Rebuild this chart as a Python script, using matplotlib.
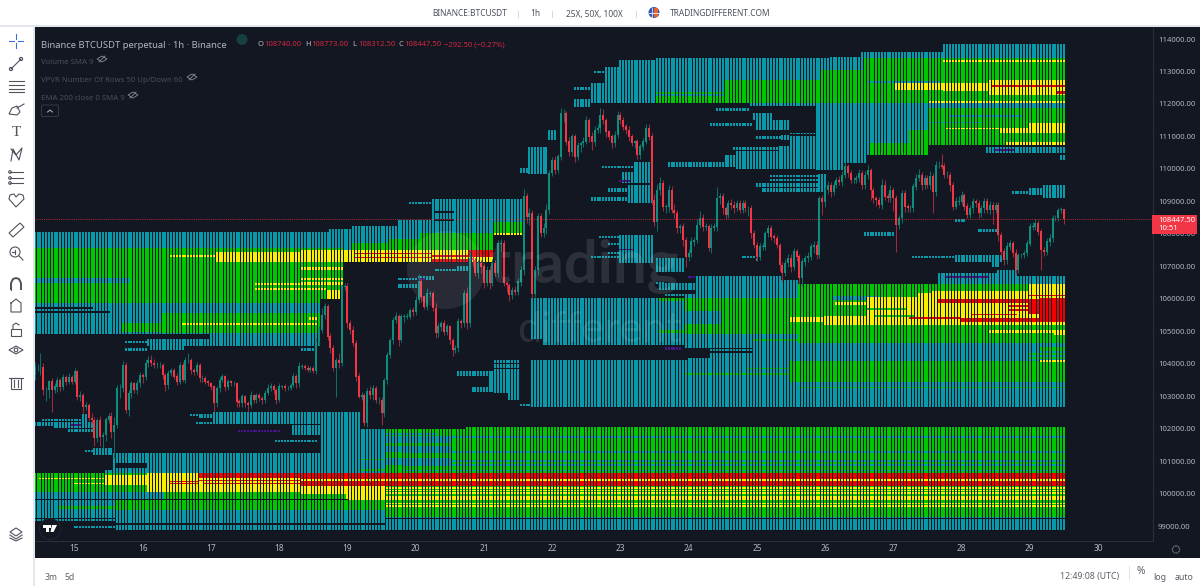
import numpy as np
import matplotlib
matplotlib.use("Agg")
import matplotlib.pyplot as plt
from matplotlib.patches import Rectangle, Circle, Polygon, FancyBboxPatch

plt.rcParams["font.family"] = ["Noto Sans", "DejaVu Sans"]

BG = "#131722"
TEAL = "#089aaa"
GREEN = "#00c800"
YELLOW = "#f8f000"
RED = "#f00000"
PURPLE = "#47148c"
UP = "#0e8f7e"
DOWN = "#f23645"
AXIS_TEXT = "#b2b5be"

# Hourly candles, the last one printing at 12:00 on the 29th
first_open = 103650
closes = [
    103890,103890,103890,103190,103190,103440,103190,103290,103500,
    103270,103580,103440,103580,103440,103750,102960,103030,102670,102730,
    102320,102260,101700,102260,101750,101800,102280,102370,101900,102110,
    103240,103240,103960,102570,103090,103390,103190,103390,103650,103600,
    104010,104110,104010,103960,103960,103960,103650,103340,103700,103800,
    103600,103440,103960,103500,104110,104110,103800,103750,103960,103550,
    103550,103440,103390,103290,102780,103240,103500,103600,103290,103440,
    103390,103390,102830,102780,102980,102780,102730,103030,102880,103030,
    102930,102880,103090,103240,103290,103190,102880,103290,103290,103240,
    103240,103340,103600,103390,103910,103910,103860,103800,103860,103780,
    104680,105040,105500,105780,104830,104470,103860,104110,104010,106370,
    106370,105240,105040,104630,103600,102980,103030,102160,103140,103030,
    103240,102880,102880,102470,103490,104270,104730,105340,105450,104730,
    105450,105450,105450,105650,105600,105960,106520,106060,105750,106160,
    106160,105700,104930,105140,105240,104980,105140,104730,104420,104470,
    105290,105240,106160,105240,107240,107190,106780,107090,106990,106470,
    106880,106470,107090,106780,107700,107700,106470,106420,106110,106270,
    106210,106520,106880,109140,108530,108630,106160,106880,108530,108010,
    108170,108730,109860,110270,109960,110370,111710,111710,110840,110530,
    110990,110370,110730,110790,110840,111500,110990,110840,111200,111250,
    111660,111500,111140,110990,110790,111040,111660,111500,111300,111200,
    110990,110790,110840,110430,110680,110840,111250,110990,109040,108370,
    109350,109550,108830,108830,109350,108730,108630,108170,108220,107810,
    107290,107400,107760,107810,108270,108480,108220,108220,107550,108170,
    108220,109090,109140,108780,108580,108940,108890,108780,108940,108730,
    108940,108780,108780,108010,107650,107290,107600,107600,108010,108170,
    107910,107860,107650,107040,106780,107090,107240,106990,107450,107290,
    106630,107140,107240,107290,107600,107650,107340,109090,108990,109350,
    109500,109300,109500,109660,109600,109810,110070,109860,109660,109660,
    109710,109860,109500,109810,109960,109350,109090,109040,108890,109500,
    109140,109090,109350,109090,108270,108480,109250,108840,108780,108780,
    109450,109710,109810,109500,109710,109500,109760,109300,110120,110120,
    110070,109810,109810,109500,108840,108990,108990,109190,108840,108580,
    108780,108990,108940,108630,108780,108990,108730,108890,108730,108890,
    107960,107450,107190,107600,107700,107400,106880,107340,107340,107400,
    107700,108220,108220,108320,108060,107500,107450,107760,107860,108480,
    108480,108730,108740,108447.5,
]
wick_up = [
    150,100,430,120,100,60,130,120,100,
    60,100,80,120,60,120,50,120,60,100,
    60,150,100,80,120,100,80,100,150,250,
    100,120,120,80,100,80,60,100,100,60,
    120,130,170,120,100,80,60,60,100,80,
    80,120,100,100,90,220,60,80,100,60,
    100,60,60,60,50,80,80,80,60,100,
    60,80,50,70,100,70,60,120,50,80,
    60,80,100,120,100,80,70,100,60,80,
    60,80,100,70,130,80,90,100,60,80,
    100,120,220,100,70,100,100,80,220,90,
    120,130,100,130,100,120,100,80,120,160,
    100,70,100,90,80,100,60,100,130,80,
    90,70,120,50,100,140,250,100,70,170,
    80,90,170,100,90,110,70,60,70,100,
    120,100,120,200,190,120,50,110,100,100,
    140,140,120,100,120,130,100,70,80,100,
    130,120,130,230,120,160,90,130,120,110,
    150,200,120,100,120,100,180,120,70,150,
    70,90,110,50,130,130,70,160,130,120,
    200,180,70,60,90,130,120,90,100,70,
    110,90,60,80,80,100,120,120,100,180,
    180,190,110,90,150,120,200,100,90,100,
    100,120,130,100,180,220,130,100,90,120,
    100,340,120,110,80,100,120,110,100,90,
    90,100,70,100,120,100,110,130,90,100,
    100,70,90,60,100,120,130,150,120,80,
    100,110,120,150,130,120,120,80,120,100,
    120,90,120,100,110,120,130,70,100,90,
    100,130,100,110,150,70,100,90,100,190,
    160,110,150,100,110,90,110,100,90,120,
    100,130,180,90,100,110,160,100,110,130,
    340,100,120,100,90,130,170,130,80,100,
    120,110,90,90,100,100,110,120,90,100,
    80,100,100,150,120,70,140,70,80,100,
    100,120,140,130,100,100,90,110,130,90,
    90,70,100,33,
]
wick_dn = [
    150,100,230,150,350,250,670,100,150,
    120,80,100,60,70,80,80,100,200,100,
    100,90,250,120,300,350,180,100,200,820,
    80,300,120,90,170,150,80,120,100,180,
    100,120,80,100,100,90,120,170,120,90,
    80,90,80,60,100,80,120,100,90,100,
    100,60,70,100,250,100,100,70,120,110,
    80,70,150,110,100,120,180,90,90,100,
    80,120,80,60,90,110,110,70,60,70,
    60,60,70,150,120,70,50,70,70,60,
    100,90,100,120,90,130,70,900,150,90,
    110,150,120,90,120,50,100,90,100,130,
    160,100,110,360,100,130,100,120,90,180,
    60,180,80,70,130,110,100,150,80,100,
    100,90,150,110,120,90,100,120,170,100,
    120,130,100,160,100,180,90,150,200,130,
    80,160,80,90,110,230,90,210,190,110,
    100,80,120,150,190,270,130,120,160,110,
    100,170,130,90,130,100,110,260,100,120,
    120,160,90,220,110,80,150,250,120,110,
    130,120,150,110,140,120,100,120,100,130,
    130,100,160,120,130,110,60,90,110,120,
    280,140,120,200,150,100,130,130,130,200,
    300,130,100,140,100,90,130,100,90,130,
    90,120,170,160,110,80,130,130,90,80,
    100,110,240,130,100,120,110,90,100,100,
    110,150,100,200,230,90,120,170,100,130,
    180,250,120,100,100,180,130,100,400,170,
    120,180,90,100,100,130,90,100,80,100,
    90,100,120,130,120,300,130,180,110,120,
    100,100,100,400,820,130,150,160,100,110,
    100,100,90,140,110,90,110,670,130,100,
    80,100,90,170,110,70,100,90,100,100,
    100,130,110,140,120,140,100,120,430,100,
    170,120,150,130,100,120,120,100,90,100,
    70,90,100,100,100,620,130,100,120,110,
    80,90,100,135,
]

# Order-book depth zones: (first day, last day, low price, high price)
teal_zones = [
    # upper-left shelf
    (14.40,16.99,104914,108055),(16.99,18.60,104544,108055),(18.60,18.72,105992,108055),
    (18.72,18.94,105992,108148),(18.94,19.08,107131,108148),(19.08,19.74,107131,108240),
    (19.74,20.25,107131,108425),(20.25,20.94,107131,109072),(20.94,21.16,107347,109072),
    (21.16,21.57,107963,109072),(19.90,20.25,108918,108979),
    # pockets around the 22nd and 23rd
    (21.63,21.94,109842,110673),(21.53,21.63,109873,110027),(21.94,22.07,110889,111197),
    (23.19,23.46,109903,110211),(22.73,23.19,110027,110088),(23.04,23.46,109565,109903),
    (22.82,23.46,109287,109411),(23.11,23.46,108949,109503),(22.58,23.29,109010,109134),
    (23.70,24.53,110057,110211),(24.53,24.68,110057,110427),(24.68,25.31,109996,110550),
    (25.31,25.59,109996,110704),(25.48,25.85,109996,111012),(25.85,26.29,109965,112029),
    (26.29,26.61,110181,112029),(26.61,27.54,110427,112029),(27.54,29.52,110735,112029),
    # upper-right shelf
    (22.78,22.99,112029,113137),(22.99,23.52,112029,113353),(23.52,26.06,112029,113415),
    (26.06,26.51,112029,113445),(26.51,27.73,112029,113600),(27.73,29.52,112029,113846),
    (22.33,22.55,112429,112521),(22.33,22.55,111900,112150),(22.57,22.78,112029,112645),
    (22.62,22.78,112950,113010),(24.39,24.91,111782,111875),(24.94,25.22,111505,111721),
    (24.99,25.48,111197,111505),(24.30,24.94,111320,111413),(24.99,25.34,110920,111012),
    (25.34,25.48,110889,111043),(25.48,25.93,111074,111105),(24.65,25.34,110581,110673),
    (24.91,25.93,111950,112029),
    # isolated ladders near the current price
    (29.19,29.52,109103,109503),(28.96,29.19,109195,109411),(28.71,28.96,109226,109318),
    (28.35,29.52,110489,110673),(29.44,29.52,110273,110427),(25.19,25.90,109749,109811),
    (25.19,25.90,109626,109688),(24.97,25.90,109441,109565),(25.08,25.90,109287,109411),
    (25.90,26.03,109287,109842),(27.91,28.08,108363,108456),(28.25,28.52,108055,108148),
    (26.58,27.02,107932,108055),(27.29,27.91,107255,107316),(27.91,28.61,107131,107347),
    (28.42,28.57,106977,107162),(24.78,24.97,107255,107316),(24.97,25.02,107162,107255),
    (23.51,23.92,106823,107255),(22.99,23.46,107100,107963),(22.70,22.99,107871,107932),
    (22.80,23.14,107655,107717),(22.80,23.14,107380,107440),(22.58,23.14,107255,107316),
    (23.51,23.65,106454,106515),(23.58,24.17,106269,106485),(23.63,23.92,106084,106146),
    # middle and lower-right shelf
    (21.68,21.87,104760,106023),(21.87,23.92,104575,106023),(23.92,24.09,104483,106146),
    (24.09,24.94,104483,106700),(24.94,25.35,102665,106700),(25.35,25.62,102665,106577),
    (25.62,27.64,102665,106454),(27.64,28.52,102665,106793),(28.52,28.83,102665,106885),
    (28.83,29.52,102665,106700),(21.13,21.34,103098,104113),(21.34,21.53,102881,104113),
    (21.53,21.70,102696,102758),(21.70,23.99,102665,104113),(23.99,24.33,102665,104175),
    (24.33,24.94,102665,104329),(24.33,24.94,104400,104440),(20.61,21.05,103620,103774),
    (20.83,21.05,103129,103281),(21.05,21.13,103129,103774),(20.02,20.28,106580,106700),
    (19.74,20.02,106330,106450),(19.74,20.02,106580,106640),(20.28,20.77,106850,106920),
    (20.62,20.77,106840,107000),
    # left-hand ladders
    (14.52,15.11,102234,102296),(14.40,14.68,102080,102204),(14.68,15.26,102019,102204),
    (15.11,15.18,102019,102450),(14.89,15.26,101895,101988),(15.15,15.26,101280,101341),
    (15.26,15.56,101187,101403),(16.69,17.02,102388,102450),(16.81,17.35,102327,102450),
    (17.02,18.60,102142,102505),(16.77,17.50,102142,102204),(18.19,18.60,101803,102111),
    (18.60,19.18,101249,102505),(17.94,18.57,101587,101649),(15.74,16.06,104637,104698),
    (16.06,16.99,104544,104760),(16.11,16.62,104421,104544),(15.74,16.06,104390,104483),
    (18.32,18.52,104400,104470),
    # bottom shelf
    (15.56,19.18,100633,101249),(15.45,15.56,100633,100725),(19.18,20.72,100633,101988),
    (20.72,29.52,100633,102050),(14.40,15.59,99123,100633),(15.59,29.52,98877,100633),
    (15.00,15.59,98950,99000),
]
green_zones = [
    (14.40,18.60,105869,107563),(18.60,18.94,105992,107563),(16.28,18.60,104945,105561),
    (15.70,16.28,104990,105250),(19.08,19.59,107501,107717),(19.59,20.06,107501,107840),
    (20.06,21.16,107501,108025),(21.16,21.57,108025,108363),
    (23.52,24.53,112029,112368),(24.53,25.93,112029,112737),(25.93,26.57,112029,113047),
    (26.57,29.52,112029,113415),(27.54,29.52,110735,111875),(27.23,27.54,110427,111197),
    (26.66,27.23,110427,110800),
    (23.92,24.94,104914,106023),(23.58,23.92,105930,106023),(23.58,23.92,104930,105030),
    (24.94,25.62,104914,106023),(25.62,29.52,104637,106454),(24.94,25.62,104700,104760),
    (25.48,29.52,103435,104082),(23.92,25.48,103651,103713),(24.85,25.48,103836,103866),
    (25.62,29.52,103251,103281),(29.13,29.52,104400,104500),(28.96,29.52,104280,104340),
    (28.96,29.52,104150,104200),
    (19.58,20.72,100633,101988),(20.72,29.52,100633,102050),(19.18,19.58,101030,101060),
    (19.18,19.58,100700,100760),(14.40,15.59,100047,100633),(15.59,29.52,99277,100633),
    (14.78,15.59,99530,99610),
]
teal_over_green = [
    (14.40,15.81,106485,106639),(23.92,24.49,105210,105610),(15.59,16.30,99800,100047),
    (15.59,19.58,99277,99493),(19.80,29.52,101700,101760),(19.80,29.52,101250,101310),
    (19.80,29.52,100980,101020),(19.80,29.52,100860,100910),(19.80,29.52,100700,100730),
    (19.58,20.50,101560,101760),(19.58,20.50,101280,101450),(19.58,20.50,100880,101100),
    (19.58,20.30,101800,101880),(23.52,24.53,112250,112300),(26.60,27.70,112645,112700),
    (27.80,28.90,111600,111650),(27.54,28.30,111400,111450),(26.10,26.80,105950,106100),
    (26.66,27.10,110900,111000),
]
yellow_zones = [
    (18.45,18.57,105340,105440),(16.57,18.57,105190,105250),(17.06,18.31,107131,107440),
    (16.40,17.06,107285,107347),(18.31,21.16,107131,107501),(18.31,18.94,106885,106980),
    (18.31,18.94,106577,106639),(18.31,18.94,106423,106515),(18.70,18.94,105992,106269),
    (17.65,18.70,106423,106485),(17.65,18.70,106269,106331),(21.16,21.57,107960,108025),
    (27.04,27.73,112429,112645),(27.73,28.38,112400,112660),(28.38,29.52,112275,112737),
    (27.73,29.52,113291,113353),(27.54,29.52,112029,112090),(27.79,28.57,111228,111259),
    (28.57,28.96,111105,111259),(28.96,29.52,111105,111413),(28.64,29.52,110735,110827),
    (25.48,26.00,105283,105437),(26.00,26.60,105191,105470),(26.16,26.60,105800,105900),
    (26.60,27.36,105191,106053),(27.36,27.57,105191,106177),(27.57,28.96,105191,106238),
    (28.96,29.52,105191,106454),(28.38,29.52,104945,105040),(29.34,29.52,104883,105006),
    (29.16,29.52,104060,104100),
    (14.50,15.45,100448,100490),(15.00,15.45,100290,100320),(15.45,16.06,100260,100560),
    (16.06,18.31,100040,100633),(18.31,19.58,99986,100232),(18.96,19.58,99800,100232),
    (19.58,29.52,100140,100200),(19.58,29.52,100070,100110),(19.58,29.52,100000,100040),
    (19.58,29.52,99801,99924),(19.58,29.52,99680,99720),(19.58,29.52,99600,99640),
    (18.31,29.52,100386,100448),
]
green_over_yellow = [
    (26.60,27.20,105650,105700),(26.75,27.30,105450,105490),(18.31,18.94,106720,106800),
]
red_zones = [
    (19.11,20.24,107370,107420),(19.11,20.24,107240,107290),(20.24,20.77,107131,107210),
    (20.24,20.77,107280,107360),(20.77,21.16,107285,107501),(28.45,29.52,112521,112583),
    (29.40,29.52,112300,112400),(27.63,28.96,105869,105992),(27.96,29.13,105283,105407),
    (29.13,29.52,105283,106023),(28.96,29.13,105530,105992),(28.68,29.13,105745,105807),
    (28.68,29.13,105620,105680),(28.16,28.83,105499,105530),(27.23,27.96,105380,105437),
    (28.96,29.52,106080,106110),(16.80,18.31,100480,100633),(18.31,29.52,100232,100386),
    (18.31,29.52,100448,100633),(16.40,16.80,100370,100400),(16.40,16.80,100280,100310),
    (16.80,18.31,100380,100410),(16.90,18.31,100300,100330),
]
purple_zones = [
    (17.38,18.04,101900,101960),(15.85,16.06,100780,100830),(14.95,15.10,102090,102130),
    (27.79,28.39,106640,106690),(28.50,28.75,110560,110610),(23.99,24.09,106640,106700),
    (23.65,23.90,104430,104500),(23.00,23.14,109610,109660),(23.00,23.20,107490,107530),
    (20.02,20.14,106590,106650),
]
gap_zones = [
    (14.40,15.26,105690,105740),(14.40,15.52,105570,105610),(14.40,19.58,99040,99085),
    (14.40,15.60,99220,99260),(14.40,15.60,99110,99150),(19.58,29.52,99225,99260),
    (14.40,19.00,99790,99820),(15.59,16.06,100800,100950),(20.28,20.55,108640,108700),
    (20.28,20.55,108410,108460),(21.13,21.70,103990,104030),(21.13,21.70,103850,103880),
]

day_ticks = list(range(15, 31))
price_ticks = list(range(99000, 114001, 1000))

o = np.array([first_open] + closes[:-1], dtype=float)
c = np.array(closes, dtype=float)
h = np.maximum(o, c) + np.array(wick_up)
l = np.minimum(o, c) - np.array(wick_dn)
t = 29.5 - (len(c) - 1 - np.arange(len(c))) / 24

fig = plt.figure(figsize=(12, 5.86), dpi=100, facecolor="white")

# Chart panel behind everything
back = fig.add_axes([0, 0, 1, 1], zorder=0)
back.set_xlim(0, 1200); back.set_ylim(586, 0); back.axis("off")
back.add_patch(Rectangle((35, 27), 1165, 531, fc=BG, ec="none"))
back.add_patch(Rectangle((0, 25), 1200, 2, fc="#e3e6ec", ec="none"))
back.add_patch(Rectangle((33, 27), 2, 559, fc="#e3e6ec", ec="none"))

ax = fig.add_axes([35/1200, (586-541)/586, (1153-35)/1200, (541-27)/586], zorder=1)
ax.set_facecolor("none")
ax.set_xlim(14.421, 30.806)
ax.set_ylim(98539, 114370)
for s in ("top", "left"):
    ax.spines[s].set_visible(False)
for s in ("bottom", "right"):
    ax.spines[s].set_color("#2a2e39")
ax.yaxis.tick_right()
ax.set_yticks(price_ticks, [f"{p:.2f}" for p in price_ticks])
ax.set_xticks(day_ticks, [str(d) for d in day_ticks])
ax.tick_params(axis="y", length=0, labelsize=5.5, labelcolor=AXIS_TEXT, pad=3.6)
ax.tick_params(axis="x", length=0, labelsize=6.0, labelcolor=AXIS_TEXT, pad=2.5)


def draw_zones(zones, color, z):
    """Draw a depth zone as one thin vertical bar per hourly column."""
    xs, lows, highs = [], [], []
    for d0, d1, lo, hi in zones:
        m = (t >= d0) & (t <= d1)
        xs.extend(t[m]); lows.extend([lo] * m.sum()); highs.extend([hi] * m.sum())
    ax.vlines(xs, lows, highs, colors=color, linewidth=1.3, zorder=z, capstyle="butt",
              antialiased=False)


draw_zones(teal_zones, TEAL, 2)
draw_zones(green_zones, GREEN, 3)
draw_zones(teal_over_green, TEAL, 3.5)
draw_zones(yellow_zones, YELLOW, 4)
draw_zones(green_over_yellow, GREEN, 4.5)
draw_zones(red_zones, RED, 5)
draw_zones(purple_zones, PURPLE, 5.5)
draw_zones(gap_zones, BG, 5.8)

# Candles
rising = c >= o
colors = np.where(rising, UP, DOWN)
wick_colors = np.where(rising, "#0b6f66", "#a02a3b")
ax.vlines(t, l, h, colors=wick_colors, linewidth=0.75, zorder=6)
ax.vlines(t, np.minimum(o, c), np.maximum(o, c) + 12, colors=colors, linewidth=1.45,
          zorder=7, capstyle="butt")

# Last price line
ax.axhline(closes[-1], color="#f23645", lw=0.7, ls=(0, (1, 1.2)), alpha=0.7, zorder=8)

# Interface layer, laid out in figure pixels
ui = fig.add_axes([0, 0, 1, 1], zorder=3)
ui.set_xlim(0, 1200); ui.set_ylim(586, 0); ui.axis("off")
ui.patch.set_alpha(0)

# Watermark
ui.add_patch(Circle((446, 270), 39, fc="white", ec="none", alpha=0.09))
ui.text(489, 283, "trading", fontsize=43, fontweight="bold", family="Lato", color="white",
        alpha=0.11, ha="left", va="baseline")
ui.text(517, 342, "different", fontsize=31, family="Lato", color="white",
        alpha=0.10, ha="left", va="baseline")

# Header
HEAD = "#4d5160"
for x, s in [(470, "BINANCE:BTCUSDT"), (535, "1h"), (594, "25X, 50X, 100X"), (720, "TRADINGDIFFERENT.COM")]:
    ui.text(x, 14, s, fontsize=6.0, color=HEAD, ha="center", va="center")
for x in (518, 552, 636):
    ui.plot([x, x], [11, 17], color="#d5d8de", lw=0.7)
ui.add_patch(Circle((654, 12.5), 5.5, fc="#3a55b0", ec="none"))
ui.add_patch(Rectangle((654, 8), 3.5, 9, fc="#e8642c", ec="none"))
ui.plot([649, 659], [12.5, 12.5], color="white", lw=0.6)
ui.plot([651.5, 651.5], [7.5, 18], color="white", lw=0.5)

# Legend lines
ui.text(41, 45, "Binance BTCUSDT perpetual · 1h · Binance", fontsize=6.8, color=AXIS_TEXT, va="center")
ui.add_patch(Circle((242, 39.5), 5.5, fc="#153f40", ec="none"))
TXT_RED = "#d3263f"
for x, lab, val in [(258, "O", "108740.00"), (305.5, "H", "108773.00"), (352.5, "L", "108312.50"), (398.5, "C", "108447.50")]:
    ui.text(x, 45, lab, fontsize=5.5, color=AXIS_TEXT, va="center")
    ui.text(x + 6, 45, val, fontsize=5.5, color=TXT_RED, va="center")
ui.text(444, 45, "−292.50 (−0.27%)", fontsize=5.5, color=TXT_RED, va="center")
DIM = "#4b4e59"
for y, s, ex in [(63, "Volume SMA 9", 102), (81, "VPVR Number Of Rows 50 Up/Down 60", 192), (99, "EMA 200 close 0 SMA 9", 133)]:
    ui.text(41, y, s, fontsize=5.6, color=DIM, va="center")
    ui.add_patch(Polygon([(ex - 5, y - 4), (ex, y - 7), (ex + 5, y - 4), (ex, y - 1)], fc="none", ec="#8a8d96", lw=0.6))
    ui.plot([ex - 3, ex + 3], [y - 1, y - 7], color="#8a8d96", lw=0.6)
ui.add_patch(FancyBboxPatch((41.5, 105), 17, 11.5, boxstyle="round,pad=0,rounding_size=1.5", fc="none", ec="#363a45", lw=0.7))
ui.plot([47.5, 50, 52.5], [112, 110, 112], color=AXIS_TEXT, lw=0.7)

# Last price tag
ui.add_patch(Rectangle((1152, 215), 45, 19, fc="#f23645", ec="none"))
ui.text(1158, 220.5, "108447.50", fontsize=5.5, color="white", va="center")
ui.text(1158, 229, "10:51", fontsize=5.5, color="white", va="center")

# Time-axis settings gear
ui.add_patch(Circle((1176, 549.5), 3.6, fc="none", ec="#6c6f79", lw=0.9, ls=(0, (1.4, 0.5))))

# TradingView-style mark at the lower left
ui.add_patch(Circle((50, 529), 10.5, fc=BG, ec="#23262f", lw=0.6))
ui.add_patch(Rectangle((43, 525), 7.5, 2.8, fc="white", ec="none"))
ui.add_patch(Rectangle((46, 525), 3, 7, fc="white", ec="none"))
ui.add_patch(Polygon([(52, 525), (57, 525), (53.5, 532), (50.5, 532)], fc="white", ec="none"))

# Bottom bar
FOOT = "#5d606b"
ui.text(51, 577, "3m", fontsize=6.2, color=FOOT, ha="center", va="center")
ui.text(70, 577, "5d", fontsize=6.2, color=FOOT, ha="center", va="center")
ui.text(1089.5, 577, "12:49:08 (UTC)", fontsize=6.3, color=FOOT, ha="center", va="center")
ui.plot([1129, 1129], [566, 579], color="#e0e3eb", lw=0.7)
ui.text(1141, 571, "%", fontsize=7.2, color=FOOT, ha="center", va="center")
ui.text(1160, 577, "log", fontsize=6.3, color=FOOT, ha="center", va="center")
ui.text(1184, 577, "auto", fontsize=6.3, color=FOOT, ha="center", va="center")

# Left drawing toolbar
ICON = "#50535e"
lw = 0.8
ui.plot([16, 16], [34, 39], color="#3a6fe8", lw=lw); ui.plot([16, 16], [43, 48], color="#3a6fe8", lw=lw)
ui.plot([9, 14], [41, 41], color="#3a6fe8", lw=lw); ui.plot([18, 23], [41, 41], color="#3a6fe8", lw=lw)
ui.plot([11, 21], [69, 59], color=ICON, lw=lw)
ui.add_patch(Circle((11, 69), 1.6, fc="white", ec=ICON, lw=lw)); ui.add_patch(Circle((21, 59), 1.6, fc="white", ec=ICON, lw=lw))
for y in (81, 85, 89, 92):
    ui.plot([9, 24], [y, y], color=ICON, lw=lw)
ui.add_patch(Polygon([(9, 114), (12, 108), (17, 106), (20, 112), (17, 115)], fc="none", ec=ICON, lw=lw))
ui.plot([17, 24], [108, 104], color=ICON, lw=lw)
ui.text(16.5, 132, "T", fontsize=11, color=ICON, ha="center", va="center", family="Liberation Serif")
ui.plot([11, 13, 19, 22, 16, 11], [161, 149, 160, 148, 155, 149], color=ICON, lw=lw)
for y in (172, 178, 183):
    ui.plot([10, 23], [y, y], color=ICON, lw=lw)
    ui.add_patch(Circle((10, y), 1.3, fc="white", ec=ICON, lw=lw))
ui.add_patch(Polygon([(16, 207), (9, 199), (10, 195), (14, 194), (16, 197), (19, 194), (23, 195), (24, 199)], fc="none", ec=ICON, lw=lw))
ui.add_patch(Polygon([(9, 233), (20, 223), (24, 227), (13, 237)], fc="none", ec=ICON, lw=lw))
ui.add_patch(Circle((15, 252), 5, fc="none", ec=ICON, lw=lw)); ui.plot([19, 23], [256, 260], color=ICON, lw=lw)
ui.plot([12, 15], [252, 252], color=ICON, lw=lw); ui.plot([15, 15], [250, 254], color=ICON, lw=lw)
ui.plot([11, 11, 13, 16, 19, 21, 21], [289, 283, 279, 278, 279, 283, 289], color=ICON, lw=1.4)
ui.plot([11, 11], [286, 290], color=ICON, lw=lw)
ui.plot([11, 16, 21, 21, 11, 11], [303, 299, 303, 312, 312, 303], color=ICON, lw=lw)
ui.add_patch(Rectangle((11, 329), 10, 7, fc="none", ec=ICON, lw=lw))
ui.plot([13, 13, 16, 19], [329, 325, 323, 325], color=ICON, lw=lw)
ui.add_patch(Polygon([(9, 350), (16, 346), (23, 350), (16, 354)], fc="none", ec=ICON, lw=lw))
ui.add_patch(Circle((16, 350), 1.8, fc="none", ec=ICON, lw=lw))
ui.add_patch(Rectangle((11, 378), 10, 11, fc="none", ec=ICON, lw=lw))
ui.plot([9, 23], [378, 378], color=ICON, lw=lw); ui.plot([14, 14], [380, 387], color=ICON, lw=lw); ui.plot([18, 18], [380, 387], color=ICON, lw=lw)
ui.add_patch(Polygon([(10, 532), (16, 528), (22, 532), (16, 536)], fc="none", ec=ICON, lw=lw))
ui.plot([10, 16, 22], [535, 539, 535], color=ICON, lw=lw)
ui.plot([10, 16, 22], [538, 541, 538], color=ICON, lw=lw)

fig.savefig("out.png", dpi=100, facecolor="white")
